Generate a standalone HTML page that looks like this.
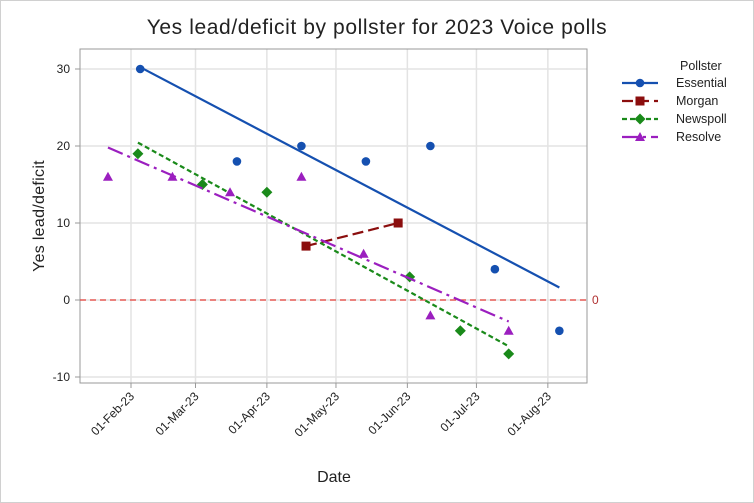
<!DOCTYPE html>
<html><head><meta charset="utf-8"><style>
html,body{margin:0;padding:0;background:#fff}
svg{display:block;font-family:"Liberation Sans",sans-serif}
</style></head><body>
<svg id="chart" width="754" height="503" viewBox="0 0 754 503">
<rect x="0.5" y="0.5" width="753" height="502" fill="#fff" stroke="#d0d0d0"/>
<text x="377" y="34" font-size="21" letter-spacing="0.6" text-anchor="middle" fill="#222">Yes lead/deficit by pollster for 2023 Voice polls</text>
<g id="grid"></g>
<rect x="80" y="49" width="507" height="334" fill="none" stroke="#999"/>
<g id="axes"></g>
<g id="series"></g>
<text transform="translate(44,216) rotate(-90)" font-size="16" letter-spacing="0.3" text-anchor="middle" fill="#222">Yes lead/deficit</text>
<text x="334" y="482" font-size="16" text-anchor="middle" fill="#222">Date</text>
<g id="legend"></g>
</svg>
<script>
const yTicks=[-10,0,10,20,30];
const xTickDates=["2023-02-01","2023-03-01","2023-04-01","2023-05-01","2023-06-01","2023-07-01","2023-08-01"];
const xTickLabels=["01-Feb-23","01-Mar-23","01-Apr-23","01-May-23","01-Jun-23","01-Jul-23","01-Aug-23"];
const seriesNames=["Essential","Morgan","Newspoll","Resolve"];
const essentialDates=["2023-02-05","2023-03-19","2023-04-16","2023-05-14","2023-06-11","2023-07-09","2023-08-06"];
const essentialValues=[30,18,20,18,20,4,-4];
const morganDates=["2023-04-18","2023-05-28"];
const morganValues=[7,10];
const newspollDates=["2023-02-04","2023-03-04","2023-04-01","2023-06-02","2023-06-24","2023-07-15"];
const newspollValues=[19,15,14,3,-4,-7];
const resolveDates=["2023-01-22","2023-02-19","2023-03-16","2023-04-16","2023-05-13","2023-06-11","2023-07-15"];
const resolveValues=[16,16,14,16,6,-2,-4];

const NS="http://www.w3.org/2000/svg";
const base=Date.UTC(2023,1,1);
function dayOf(s){const p=s.split("-");return (Date.UTC(+p[0],+p[1]-1,+p[2])-base)/86400000;}
function xScale(s){return 131+dayOf(s)*2.303;}
function xDay(d){return 131+d*2.303;}
function yScale(v){return 300-v*7.7;}
function mk(tag,attrs,parent){const e=document.createElementNS(NS,tag);for(const k in attrs)e.setAttribute(k,attrs[k]);parent.appendChild(e);return e;}
const grid=document.getElementById("grid"),axes=document.getElementById("axes"),ser=document.getElementById("series"),leg=document.getElementById("legend");

yTicks.forEach(v=>{
  const y=yScale(v);
  const g=mk("line",{x1:80,x2:587,y1:y,y2:y,stroke:"#e3e3e3","stroke-width":1.5},grid);
  
  
  const t=mk("line",{x1:75,x2:80,y1:y,y2:y,stroke:"#999"},axes);
  
  
  const l=mk("text",{x:70,y:y+4,"font-size":12,"text-anchor":"end",fill:"#222"},axes);
  l.textContent=v;
  
  
});
xTickDates.forEach((d,i)=>{
  const x=xScale(d);
  const g=mk("line",{x1:x,x2:x,y1:49,y2:383,stroke:"#e3e3e3","stroke-width":1.5},grid);
  
  
  const t=mk("line",{x1:x,x2:x,y1:383,y2:388,stroke:"#999"},axes);
  
  
  const l=mk("text",{transform:`translate(${x+4},${397}) rotate(-45)`,"font-size":12,"text-anchor":"end",fill:"#222"},axes);
  l.textContent=xTickLabels[i];
  
  
});
const zl=mk("line",{x1:80,x2:587,y1:yScale(0),y2:yScale(0),stroke:"#e8403a","stroke-dasharray":"6,4","stroke-width":1.2},ser);


const zt=mk("text",{x:592,y:yScale(0)+4,"font-size":12,fill:"#b03030"},ser);
zt.textContent="0";



const styles=[
 {color:"#1550b0",dash:"",marker:"circle",dates:essentialDates,vals:essentialValues},
 {color:"#8b0e0e",dash:"11,5",marker:"square",dates:morganDates,vals:morganValues},
 {color:"#1a8a1a",dash:"5,3",marker:"diamond",dates:newspollDates,vals:newspollValues},
 {color:"#9b1fbf",dash:"16,5,3,5",marker:"triangle",dates:resolveDates,vals:resolveValues}
];
function marker(type,x,y,color,parent){
  let e;
  if(type==="circle")e=mk("circle",{cx:x,cy:y,r:4.3,fill:color},parent);
  else if(type==="square")e=mk("rect",{x:x-4.5,y:y-4.5,width:9,height:9,fill:color},parent);
  else if(type==="diamond")e=mk("polygon",{points:`${x},${y-5.5} ${x+5.5},${y} ${x},${y+5.5} ${x-5.5},${y}`,fill:color},parent);
  else e=mk("polygon",{points:`${x},${y-5} ${x+5},${y+4} ${x-5},${y+4}`,fill:color},parent);
  return e;
}
styles.forEach((s,si)=>{
  const g=mk("g",{},ser);
  
  
  const xs=s.dates.map(dayOf),ys=s.vals,n=xs.length;
  const mx=xs.reduce((a,b)=>a+b)/n,my=ys.reduce((a,b)=>a+b)/n;
  let sxy=0,sxx=0;for(let i=0;i<n;i++){sxy+=(xs[i]-mx)*(ys[i]-my);sxx+=(xs[i]-mx)**2;}
  const b=sxy/sxx,a=my-b*mx;
  const x0=Math.min(...xs),x1=Math.max(...xs);
  const ln=mk("line",{x1:xDay(x0),y1:yScale(a+b*x0),x2:xDay(x1),y2:yScale(a+b*x1),stroke:s.color,"stroke-width":2.2,"stroke-dasharray":s.dash},g);
  
  
  for(let i=0;i<n;i++){
    const m=marker(s.marker,xDay(xs[i]),yScale(ys[i]),s.color,g);
    
    
  }
  const ly=83+si*18;
  const ll=mk("line",{x1:622,x2:658,y1:ly,y2:ly,stroke:s.color,"stroke-width":2.2,"stroke-dasharray":s.dash},leg);
  
  
  const lm=marker(s.marker,640,ly,s.color,leg);
  
  
  const lt=mk("text",{x:676,y:ly+4,"font-size":12.5,fill:"#222"},leg);
  lt.textContent=seriesNames[si];
  
  
});
const lh=mk("text",{x:680,y:70,"font-size":12.5,fill:"#222"},leg);
lh.textContent="Pollster";


</script>
</body></html>
